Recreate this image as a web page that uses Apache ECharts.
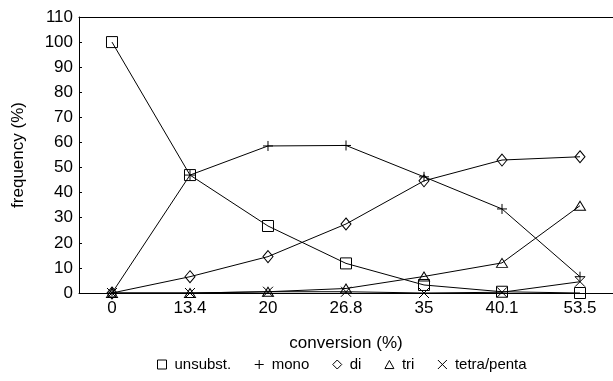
<!DOCTYPE html>
<html>
<head>
<meta charset="utf-8">
<script src="https://cdn.jsdelivr.net/npm/echarts@6/dist/echarts.min.js"></script>
<style>html,body{margin:0;padding:0;background:#fff}#c{width:613px;height:381px}</style>
</head>
<body>
<div id="c"></div>
<script>
var categories = ['0', '13.4', '20', '26.8', '35', '40.1', '53.5'];
var seriesNames = ['unsubst.', 'mono', 'di', 'tri', 'tetra/penta'];
var unsubst = [100, 47, 26.7, 11.8, 3.2, 0.5, 0];
var mono = [0, 47, 58.6, 58.8, 46.3, 33.5, 6.5];
var di = [0, 6.5, 14.5, 27.5, 44.7, 53, 54.3];
var tri = [0, 0, 0.5, 1.8, 6.6, 12, 34.8];
var tetra = [0, 0, 0.5, 0.5, 0, 0.3, 4.5];
var yTicks = [0, 10, 20, 30, 40, 50, 60, 70, 80, 90, 100, 110];

var SYM = {
  square: 'path://M0,0L10,0L10,10L0,10Z',
  plus: 'path://M5,0L5,10M0,5L10,5',
  diamond: 'path://M5,0L10,5L5,10L0,5Z',
  triangle: 'path://M5,0L10,9L0,9Z',
  cross: 'path://M0,0L10,10M10,0L0,10'
};
var symList = [SYM.square, SYM.plus, SYM.diamond, SYM.triangle, SYM.cross];
var sizes = [[11,11],[10,10],[10,12],[11,10],[10,10]];
var dataList = [unsubst, mono, di, tri, tetra];

function pts(arr){ return arr.map(function(v,i){ return [i, v]; }); }

var series = dataList.map(function(d, k){
  return {
    name: seriesNames[k],
    type: 'line',
    data: pts(d),
    symbol: symList[k],
    symbolSize: sizes[k],
    symbolKeepAspect: true,
    showAllSymbol: true,
    lineStyle: {color: '#000', width: 1},
    itemStyle: {color: 'rgba(0,0,0,0)', borderColor: '#000', borderWidth: 1},
    animation: false,
    z: 3
  };
});

var FONT = 'Liberation Sans, Arial, sans-serif';
var chart = echarts.init(document.getElementById('c'), null, {renderer: 'canvas'});
chart.setOption({
  backgroundColor: '#fff',
  animation: false,
  textStyle: {fontFamily: FONT, color: '#000'},
  grid: {left: 79, right: 0, top: 17, bottom: 88},
  legend: {
    bottom: 4,
    left: 152,
    itemWidth: 9,
    itemHeight: 9,
    itemGap: 23,
    textStyle: {fontSize: 15, color: '#000', fontFamily: FONT, padding: [0, 0, 0, 3]},
    data: seriesNames.map(function(n, k){ return {name: n, icon: symList[k], itemStyle: {color: 'rgba(0,0,0,0)', borderColor: '#000', borderWidth: 1}}; })
  },
  xAxis: [{
    type: 'value',
    min: -0.423,
    max: 6.423,
    name: 'conversion (%)',
    nameLocation: 'middle',
    nameGap: 42,
    nameTextStyle: {fontSize: 17, color: '#000', fontFamily: FONT},
    axisLine: {show: true, onZero: false, lineStyle: {color: '#000', width: 1}},
    axisTick: {show: false},
    splitLine: {show: false},
    axisLabel: {
      customValues: [0,1,2,3,4,5,6],
      formatter: function(v){ return categories[Math.round(v)]; },
      fontSize: 17, color: '#000', margin: 7, fontFamily: FONT
    }
  }, {
    type: 'value',
    position: 'top',
    min: -0.423,
    max: 6.423,
    axisLine: {show: true, onZero: false, lineStyle: {color: '#000', width: 1}},
    axisTick: {show: false},
    axisLabel: {show: false},
    splitLine: {show: false}
  }],
  yAxis: {
    type: 'value',
    min: 0,
    max: 110,
    interval: 10,
    name: 'frequency (%)',
    nameLocation: 'middle',
    nameGap: 52,
    nameTextStyle: {fontSize: 17, color: '#000', fontFamily: FONT},
    axisLine: {show: true, onZero: false, lineStyle: {color: '#000', width: 1}},
    axisTick: {show: true, inside: true, length: 3, lineStyle: {color: '#000'}},
    splitLine: {show: false},
    axisLabel: {
      customValues: yTicks,
      fontSize: 17, color: '#000', margin: 6, fontFamily: FONT
    }
  },
  series: series
});
</script>
</body>
</html>
